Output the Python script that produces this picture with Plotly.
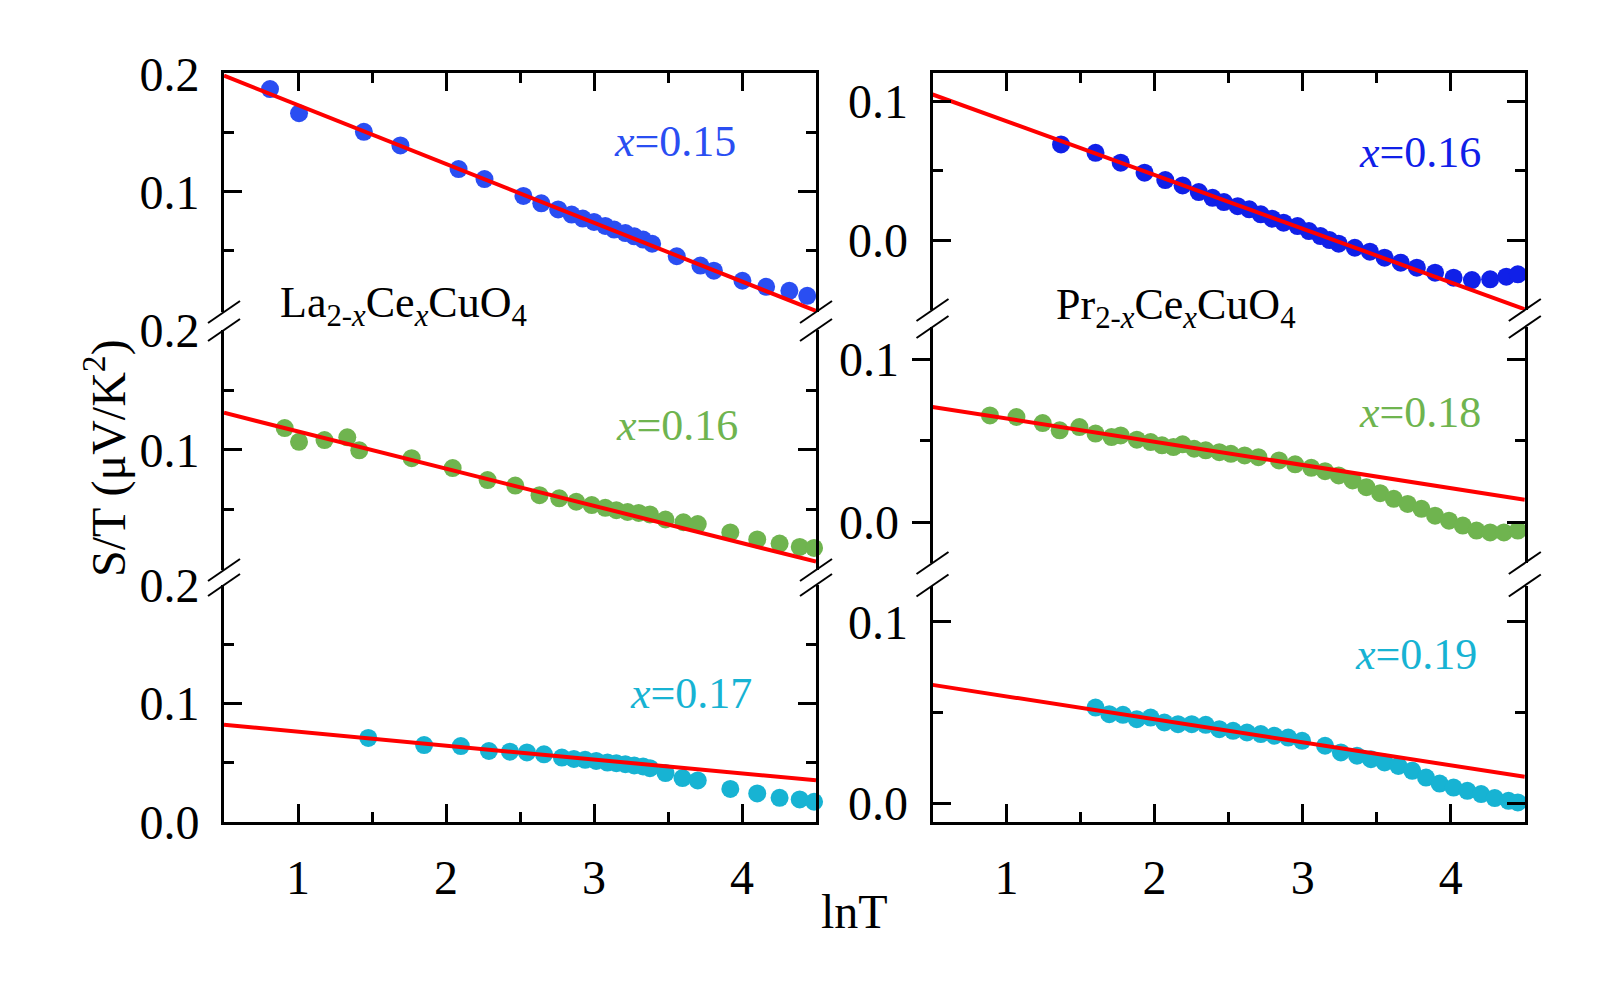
import plotly.graph_objects as go

W, H = 1609, 984

# ---------------- data ----------------
fit_x = [0.5, 4.5]

# La2-xCexCuO4, x=0.15
lco15_x = [0.811, 1.007, 1.445, 1.692, 2.085, 2.260, 2.523, 2.644, 2.758, 2.849, 2.924, 3.000,
           3.076, 3.136, 3.212, 3.272, 3.332, 3.393, 3.559, 3.719, 3.810, 4.003, 4.163, 4.320, 4.441]
lco15_y = [0.1871, 0.1666, 0.1509, 0.1393, 0.1193, 0.1108, 0.0965, 0.0902, 0.0850, 0.0807, 0.0773, 0.0744,
           0.0710, 0.0679, 0.0650, 0.0622, 0.0594, 0.0559, 0.0453, 0.0374, 0.0331, 0.0245, 0.0194, 0.0160, 0.0117]
lco15_fit = [0.1985, -0.0011]

# La2-xCexCuO4, x=0.16
lco16_x = [0.910, 1.007, 1.179, 1.333, 1.414, 1.768, 2.045, 2.281, 2.468, 2.632, 2.765, 2.880, 2.985,
           3.076, 3.151, 3.227, 3.302, 3.378, 3.483, 3.604, 3.701, 3.921, 4.103, 4.254, 4.390, 4.487]
lco16_y = [0.1182, 0.1066, 0.1081, 0.1104, 0.0995, 0.0929, 0.0846, 0.0745, 0.0699, 0.0618, 0.0592, 0.0563, 0.0535,
           0.0512, 0.0492, 0.0477, 0.0469, 0.0457, 0.0414, 0.0391, 0.0376, 0.0305, 0.0247, 0.0212, 0.0184, 0.0175]
lco16_fit = [0.131, 0.006]

# La2-xCexCuO4, x=0.17
lco17_x = [1.475, 1.852, 2.100, 2.290, 2.432, 2.547, 2.662, 2.783, 2.864, 2.940, 3.015, 3.091, 3.151,
           3.212, 3.272, 3.332, 3.378, 3.483, 3.598, 3.701, 3.921, 4.103, 4.254, 4.390, 4.487]
lco17_y = [0.0710, 0.0649, 0.0641, 0.0599, 0.0593, 0.0587, 0.0571, 0.0543, 0.0532, 0.0524, 0.0515, 0.0501, 0.0495,
           0.0487, 0.0476, 0.0468, 0.0453, 0.0412, 0.0370, 0.0350, 0.0278, 0.0239, 0.0202, 0.0189, 0.0169]
lco17_fit = [0.0821, 0.0350]

# Pr2-xCexCuO4, x=0.16
pco16_x = [1.368, 1.601, 1.771, 1.932, 2.072, 2.189, 2.298, 2.391, 2.468, 2.561, 2.639, 2.717, 2.794,
           2.871, 2.965, 3.042, 3.120, 3.181, 3.243, 3.352, 3.454, 3.553, 3.662, 3.771, 3.894, 4.019,
           4.143, 4.266, 4.375, 4.453]
pco16_y = [0.0689, 0.0629, 0.0558, 0.0486, 0.0433, 0.0395, 0.0347, 0.0306, 0.0275, 0.0246, 0.0223, 0.0187, 0.0156,
           0.0127, 0.0103, 0.0067, 0.0031, 0.0002, -0.0024, -0.0053, -0.0081, -0.0124, -0.0160, -0.0196, -0.0232, -0.0268,
           -0.0285, -0.0280, -0.0261, -0.0244]
pco16_fit = [0.1048, -0.0495]

# Pr2-xCexCuO4, x=0.18
pco18_x = [0.888, 1.067, 1.244, 1.359, 1.492, 1.601, 1.709, 1.771, 1.880, 1.973, 2.050, 2.127, 2.189, 2.267,
           2.345, 2.437, 2.515, 2.608, 2.701, 2.840, 2.949, 3.058, 3.151, 3.243, 3.337, 3.430, 3.523, 3.615,
           3.709, 3.802, 3.894, 3.988, 4.081, 4.174, 4.266, 4.359, 4.453]
pco18_y = [0.0657, 0.0647, 0.0610, 0.0565, 0.0585, 0.0545, 0.0524, 0.0534, 0.0508, 0.0493, 0.0473, 0.0462, 0.0479, 0.0452,
           0.0442, 0.0431, 0.0421, 0.0411, 0.0400, 0.0380, 0.0356, 0.0335, 0.0314, 0.0288, 0.0257, 0.0216, 0.0179, 0.0144,
           0.0113, 0.0083, 0.0041, 0.0010, -0.0020, -0.0051, -0.0062, -0.0062, -0.0051]
pco18_fit = [0.0709, 0.0138]

# Pr2-xCexCuO4, x=0.19
pco19_x = [1.601, 1.694, 1.786, 1.880, 1.973, 2.066, 2.158, 2.251, 2.345, 2.437, 2.530, 2.624, 2.717, 2.809,
           2.902, 2.996, 3.151, 3.258, 3.367, 3.461, 3.553, 3.646, 3.740, 3.833, 3.925, 4.019, 4.112, 4.205,
           4.297, 4.390, 4.453]
pco19_y = [0.0528, 0.0492, 0.0488, 0.0464, 0.0473, 0.0446, 0.0437, 0.0437, 0.0433, 0.0409, 0.0400, 0.0391, 0.0382, 0.0373,
           0.0363, 0.0345, 0.0318, 0.0281, 0.0263, 0.0244, 0.0226, 0.0207, 0.0180, 0.0143, 0.0110, 0.0088, 0.0070, 0.0052,
           0.0030, 0.0015, 0.0006]
pco19_fit = [0.0653, 0.0147]

labels = ["<i>x</i>=0.15", "<i>x</i>=0.16", "<i>x</i>=0.17", "<i>x</i>=0.16", "<i>x</i>=0.18", "<i>x</i>=0.19"]
compounds = ["La<sub>2-<i>x</i></sub>Ce<sub><i>x</i></sub>CuO<sub>4</sub>",
             "Pr<sub>2-<i>x</i></sub>Ce<sub><i>x</i></sub>CuO<sub>4</sub>"]

# ---------------- styling / layout ----------------
FONT = "Liberation Serif, Times New Roman, serif"
BLUE1 = "#2a4ef2"
BLUE2 = "#1020e8"
GREEN = "#6fb44f"
CYAN = "#17b3d3"
RED = "#ff0000"
TICKFONT = 48
MSIZE = 18

# pixel boxes: (x_left, x_right, y_top, y_bottom)
LX = (224, 816)
RX = (932.5, 1524.8)
panels = [
    dict(box=(LX[0], LX[1], 73.3, 312), yr=[-0.002, 0.2005], tv=[0.1, 0.2], mv=[0.05, 0.15], pos="top",
         x=lco15_x, y=lco15_y, fit=lco15_fit, col=BLUE1, lab=labels[0], lab_xy=(738, 141)),
    dict(box=(LX[0], LX[1], 330, 570), yr=[-0.001, 0.2005], tv=[0.1, 0.2], mv=[0.05, 0.15], pos="mid",
         x=lco16_x, y=lco16_y, fit=lco16_fit, col=GREEN, lab=labels[1], lab_xy=(740, 425)),
    dict(box=(LX[0], LX[1], 585, 821.7), yr=[0.0, 0.2005], tv=[0.0, 0.1, 0.2], mv=[0.05, 0.15], pos="bot",
         x=lco17_x, y=lco17_y, fit=lco17_fit, col=CYAN, lab=labels[2], lab_xy=(754, 693)),
    dict(box=(RX[0], RX[1], 73.3, 310), yr=[-0.05, 0.12], tv=[0.0, 0.1], mv=[-0.05, 0.05], pos="top",
         x=pco16_x, y=pco16_y, fit=pco16_fit, col=BLUE2, lab=labels[3], lab_xy=(1483, 152)),
    dict(box=(RX[0], RX[1], 327, 563), yr=[-0.025, 0.12], tv=[0.0, 0.1], mv=[0.05], pos="mid",
         x=pco18_x, y=pco18_y, fit=pco18_fit, col=GREEN, lab=labels[4], lab_xy=(1483, 412)),
    dict(box=(RX[0], RX[1], 585.5, 821.7), yr=[-0.01, 0.12], tv=[0.0, 0.1], mv=[0.05], pos="bot",
         x=pco19_x, y=pco19_y, fit=pco19_fit, col=CYAN, lab=labels[5], lab_xy=(1479, 654)),
]

fig = go.Figure()
layout = dict(width=W, height=H, autosize=False, margin=dict(l=0, r=0, t=0, b=0, pad=0, autoexpand=False),
              paper_bgcolor="white", plot_bgcolor="white", showlegend=False,
              font=dict(family=FONT, color="black", size=44))
annotations = []
shapes = []

def px_x(v):
    return v / W

def px_y(v):
    return 1 - v / H

for i, p in enumerate(panels, start=1):
    x0, x1, yt, yb = p["box"]
    xa = "xaxis" if i == 1 else f"xaxis{i}"
    ya = "yaxis" if i == 1 else f"yaxis{i}"
    xr = "x" if i == 1 else f"x{i}"
    yr = "y" if i == 1 else f"y{i}"

    xax = dict(domain=[px_x(x0), px_x(x1)], range=[0.5, 4.5], anchor=yr, automargin=False,
               showgrid=False, zeroline=False, fixedrange=True)
    if p["pos"] == "top":
        xax.update(side="top", showline=True, linewidth=3, linecolor="black",
                   ticks="inside", ticklen=18, tickwidth=3, tickcolor="black",
                   dtick=1, tick0=0, showticklabels=False,
                   minor=dict(ticks="inside", ticklen=10, tickwidth=3, tickcolor="black", dtick=0.5, tick0=0))
    elif p["pos"] == "mid":
        xax.update(showline=False, ticks="", showticklabels=False)
    else:
        xax.update(side="bottom", showline=True, linewidth=3, linecolor="black",
                   ticks="inside", ticklen=18, tickwidth=3, tickcolor="black",
                   tickmode="array", tickvals=[1, 2, 3, 4], ticktext=["1", "2", "3", "4"],
                   tickfont=dict(family=FONT, size=TICKFONT, color="black"), ticklabelstandoff=12,
                   minor=dict(ticks="inside", ticklen=10, tickwidth=3, tickcolor="black",
                              tickvals=[1.5, 2.5, 3.5]))
    layout[xa] = xax

    yax = dict(domain=[px_y(yb), px_y(yt)], range=p["yr"], anchor=xr, automargin=False,
               showgrid=False, zeroline=False, fixedrange=True,
               showline=True, linewidth=3, linecolor="black",
               tickmode="array", tickvals=p["tv"], ticktext=[f"{v:.1f}" for v in p["tv"]],
               ticklen=18, tickwidth=3, tickcolor="black",
               tickfont=dict(family=FONT, size=TICKFONT, color="black"),
               minor=dict(ticklen=10, tickwidth=3, tickcolor="black", tickvals=p["mv"]))
    if i == 5:
        # left ticks point outward, right side gets its own inward ticks
        yax.update(ticks="outside", mirror=False, ticklabelstandoff=3)
        yax["minor"]["ticks"] = "outside"
        layout["yaxis7"] = dict(overlaying="y5", side="right", anchor="x5", range=p["yr"], automargin=False,
                                showgrid=False, zeroline=False, fixedrange=True,
                                showline=True, linewidth=3, linecolor="black",
                                ticks="inside", ticklen=18, tickwidth=3, tickcolor="black",
                                tickmode="array", tickvals=p["tv"], showticklabels=False,
                                minor=dict(ticks="inside", ticklen=10, tickwidth=3, tickcolor="black",
                                           tickvals=p["mv"]))
        fig.add_trace(go.Scatter(x=[None], y=[None], xaxis="x5", yaxis="y7", showlegend=False,
                                 hoverinfo="skip"))
    else:
        yax.update(ticks="inside", mirror="ticks", ticklabelstandoff=12)
        yax["minor"]["ticks"] = "inside"
    layout[ya] = yax

    fig.add_trace(go.Scatter(x=p["x"], y=p["y"], mode="markers", xaxis=xr, yaxis=yr,
                             marker=dict(size=MSIZE, color=p["col"], line=dict(width=0)),
                             cliponaxis=False, showlegend=False))
    fig.add_trace(go.Scatter(x=fit_x, y=p["fit"], mode="lines", xaxis=xr, yaxis=yr,
                             line=dict(color=RED, width=4), showlegend=False))

    lx, ly = p["lab_xy"]
    annotations.append(dict(x=px_x(lx), y=px_y(ly), xref="paper", yref="paper", text=p["lab"],
                            showarrow=False, xanchor="right", yanchor="middle",
                            font=dict(family=FONT, size=44, color=p["col"])))

    # break marks at panel ends next to the gaps
    ends = []
    if p["pos"] in ("top", "mid"):
        ends.append(yb)
    if p["pos"] in ("mid", "bot"):
        ends.append(yt)
    for ey in ends:
        for ex in (x0, x1):
            shapes.append(dict(type="line", xref="paper", yref="paper",
                               x0=px_x(ex - 16), y0=px_y(ey + 11), x1=px_x(ex + 16), y1=px_y(ey - 11),
                               line=dict(color="black", width=2)))

# compound names
annotations.append(dict(x=px_x(278), y=px_y(305), xref="paper", yref="paper", text=compounds[0],
                        showarrow=False, xanchor="left", yanchor="middle",
                        font=dict(family=FONT, size=44, color="black")))
annotations.append(dict(x=px_x(1054), y=px_y(307), xref="paper", yref="paper", text=compounds[1],
                        showarrow=False, xanchor="left", yanchor="middle",
                        font=dict(family=FONT, size=44, color="black")))
# axis titles
annotations.append(dict(x=px_x(105), y=px_y(458), xref="paper", yref="paper",
                        text="S/T (μV/K<sup>2</sup>)", textangle=-90, showarrow=False,
                        xanchor="center", yanchor="middle",
                        font=dict(family=FONT, size=48, color="black")))
annotations.append(dict(x=px_x(854), y=px_y(911), xref="paper", yref="paper",
                        text="lnT", showarrow=False, xanchor="center", yanchor="middle",
                        font=dict(family=FONT, size=48, color="black")))

layout["annotations"] = annotations
layout["shapes"] = shapes
fig.update_layout(**layout)
fig.write_html("out.html")
